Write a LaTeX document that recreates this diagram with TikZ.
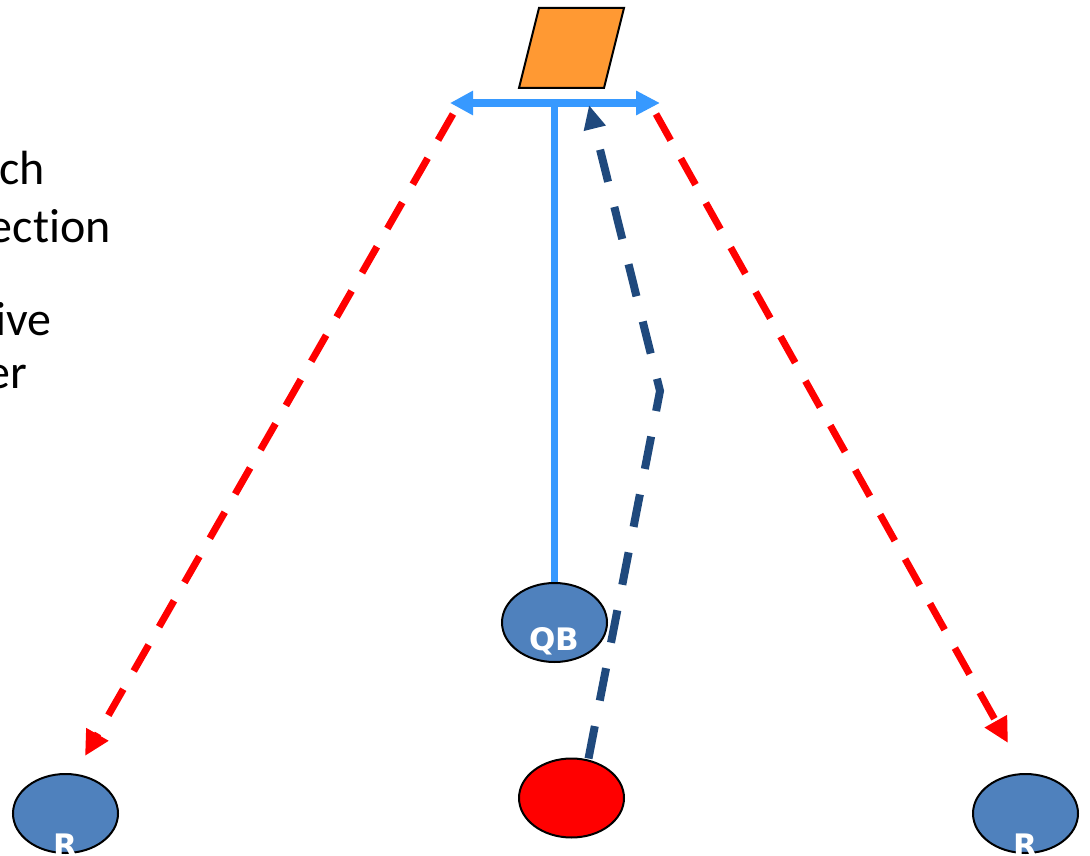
\documentclass[tikz,border=0pt]{standalone}
\usepackage{fontspec}
\setmainfont[RawFeature={-liga}]{Carlito}
\newfontfamily\lblfont{DejaVu Sans}
\usetikzlibrary{arrows.meta,shapes.geometric}
\definecolor{lblue}{RGB}{55,153,255}
\definecolor{dblue}{RGB}{31,73,125}
\definecolor{pfill}{RGB}{79,129,189}
\definecolor{orng}{RGB}{255,153,51}
\tikzset{
  player/.style={ellipse,draw=black,line width=2pt,minimum width=105pt,minimum height=79pt,inner sep=0pt},
  bluep/.style={player,fill=pfill},
  redp/.style={player,fill=red},
  plabel/.style={text=white,font=\lblfont\bfseries\fontsize{31}{31}\selectfont,inner sep=0pt,anchor=base},
  sidetext/.style={font=\fontsize{48}{58}\selectfont,inner sep=0pt,anchor=base east},
  redroute/.style={draw=red,line width=7pt,dash pattern=on 30pt off 21pt,-{Triangle[length=25pt,width=24pt]}},
  darkroute/.style={draw=dblue,line width=8pt,dash pattern=on 33pt off 26pt,-{Triangle[length=24pt,width=21pt]}},
  blockline/.style={draw=lblue,line width=7.5pt},
}
\begin{document}
\begin{tikzpicture}[x=1pt,y=-1pt]
\useasboundingbox (0,0) rectangle (1090,856);
% text cut at left edge
\node[sidetext] (t1) at (45,185) {ch};
\node[sidetext] (t2) at (111,242) {ection};
\node[sidetext] (t3) at (52,335) {ive};
\node[sidetext] (t4) at (27,388) {er};
% parallelogram
\path[draw=black,line width=2pt,fill=orng,line join=miter] (539,8) coordinate (pa) -- (624,8) coordinate (pb) -- (604,88) coordinate (pc) -- (519,88) coordinate (pd) -- cycle;
% players
\node[bluep] (qb) at (554.5,622.5) {};
\node[plabel] (qbt) at (554.5,650.5) {QB};
\node[redp] (df) at (571.5,798) {};
\node[bluep] (rl) at (65.5,813.5) {};
\node[plabel] (rlt) at (65.5,856.5) {R};
\node[bluep] (rr) at (1025.5,813.5) {};
\node[plabel] (rrt) at (1025.5,856.5) {R};
% blocking T
\coordinate (hl) at (450,103);
\coordinate (hr) at (660,103);
\coordinate (hm) at (554.5,103);
\draw[blockline,{Triangle[length=23pt,width=23pt]}-{Triangle[length=24pt,width=23pt]}] (hl) -- (hr);
\draw[blockline] (hm) -- (qb.north);
% routes
\coordinate (ls) at (453,114);
\coordinate (le) at (85,756);
\coordinate (rs) at (656,114);
\coordinate (re) at (1008,743);
\draw[redroute] (ls) -- (le);
\draw[redroute] (rs) -- (re);
\coordinate (bend) at (660,391);
\coordinate (tip) at (589,105);
\draw[darkroute] (df.north) ++(17,1) coordinate (ds) (ds) -- (bend) -- (tip);
\end{tikzpicture}
\end{document}
